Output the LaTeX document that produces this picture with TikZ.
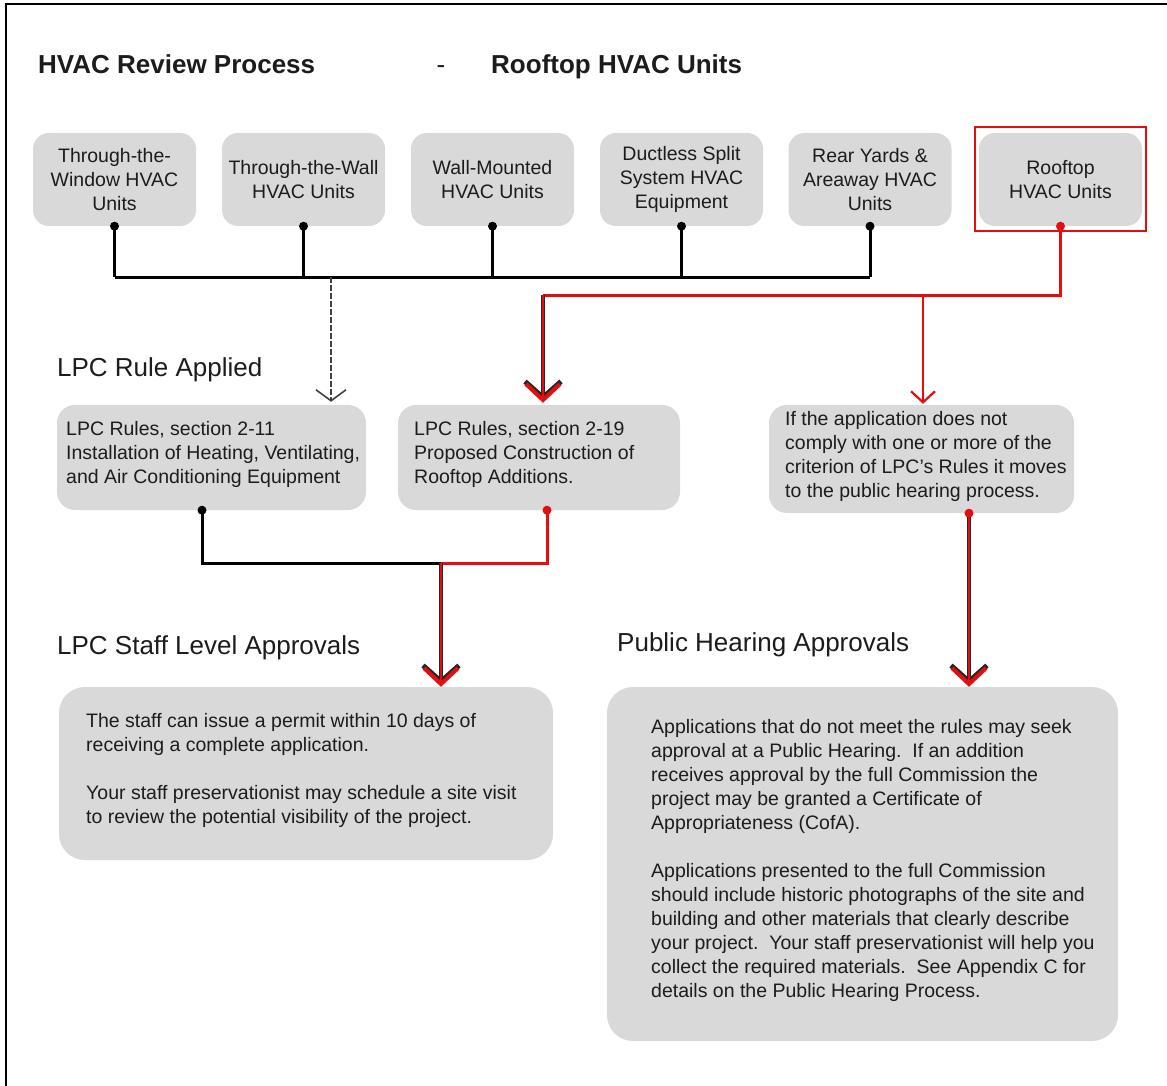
\documentclass[tikz,border=0pt]{standalone}
\usepackage{fontspec}
\setmainfont{Liberation Sans}
\usetikzlibrary{arrows.meta}
\definecolor{boxgray}{RGB}{217,217,217}
\definecolor{flowred}{RGB}{228,14,14}
\definecolor{ink}{RGB}{28,28,28}
\newcommand\diagbody{\fontsize{19.5}{24}\selectfont}
\newcommand\diaghead{\fontsize{26}{30}\selectfont}

\begin{document}
\begin{tikzpicture}[x=1pt,y=-1pt,
  unitbox/.style={fill=boxgray, rounded corners=16pt, minimum width=163pt,
    minimum height=93pt, inner sep=0pt, align=center, font=\diagbody, text=ink},
  rulebox/.style={fill=boxgray, rounded corners=18pt, inner sep=0pt},
  bigbox/.style={fill=boxgray, rounded corners=26pt, inner sep=0pt},
  boxtext/.style={anchor=west, align=left, inner sep=0pt, font=\diagbody, text=ink},
  heading/.style={anchor=west, inner sep=0pt, font=\diaghead, text=ink},
  titletext/.style={anchor=base west, inner sep=0pt, font=\diaghead\bfseries, text=ink},
  blk/.style={draw=black, line width=3pt},
  blkdrop/.style={draw=black!75, line width=2pt, dash pattern=on 6pt off 2pt,
    -{Straight Barb[length=11pt,width=30pt,line width=1.6pt]}},
  redln/.style={draw=flowred, line width=3pt},
  redunder/.style={draw=black!85, line width=3.8pt,
    -{Straight Barb[length=16pt,width=36pt,line width=5pt]}},
  redover/.style={draw=flowred, line width=2.8pt,
    -{Straight Barb[length=16pt,width=34pt,line width=4pt]}},
  redthin/.style={draw=flowred, line width=2.4pt,
    -{Straight Barb[length=11pt,width=24pt,line width=2.2pt]}}
]
\useasboundingbox (0,0) rectangle (1167,1086);
\fill[white] (0,0) rectangle (1167,1086);

% page frame (top and left edges)
\draw[line width=2.2pt] (6,1086) -- (6,4) -- (1167,4);

% title
\node[titletext] (title) at (38,74) {HVAC Review Process};
\node[anchor=base, inner sep=0pt, font=\diaghead, text=ink] (titledash) at (441,74) {-};
\node[titletext] (titleunit) at (491,74) {Rooftop HVAC Units};

% equipment categories
\node[unitbox] (b1) at (114.5,179.5) {Through-the-\\Window HVAC\\Units};
\node[unitbox] (b2) at (303.5,179.5) {Through-the-Wall\\HVAC Units};
\node[unitbox] (b3) at (492.5,179.5) {Wall-Mounted\\HVAC Units};
\node[unitbox] (b4) at (681.5,179.5) {Ductless Split\\System HVAC\\Equipment};
\node[unitbox] (b5) at (870,179.5) {Rear Yards \&\\Areaway HVAC\\Units};
\node[unitbox] (roof) at (1060.5,179.5) {Rooftop\\HVAC Units};
\node[draw=flowred, line width=2.2pt, minimum width=171pt, minimum height=104pt,
  inner sep=0pt] (roofframe) at (1060.5,179) {};

% section headings
\node[heading] (h1) at (57,370) {LPC Rule Applied};
\node[heading] (h2) at (57,648) {LPC Staff Level Approvals};
\node[heading] (h3) at (617,645) {Public Hearing Approvals};

% rule boxes
\node[rulebox, minimum width=309pt, minimum height=105pt] (rule1) at (211.5,457.5) {};
\node[boxtext] (rule1t) at (66,454) {LPC Rules, section 2-11\\Installation of Heating, Ventilating,\\and Air Conditioning Equipment};
\node[rulebox, minimum width=282pt, minimum height=105pt] (rule2) at (539,457.5) {};
\node[boxtext] (rule2t) at (414,454) {LPC Rules, section 2-19\\Proposed Construction of\\Rooftop Additions.};
\node[rulebox, minimum width=305pt, minimum height=108pt] (hear) at (921.5,459) {};
\node[boxtext] (heart) at (785,456) {If the application does not\\comply with one or more of the\\criterion of LPC’s Rules it moves\\to the public hearing process.};

% approval boxes
\node[bigbox, minimum width=494pt, minimum height=173pt] (staff) at (306,773.5) {};
\node[boxtext] (stafft) at (86,770) {The staff can issue a permit within 10 days of\\receiving a complete application.\\[24pt]Your staff preservationist may schedule a site visit\\to review the potential visibility of the project.};
\node[bigbox, minimum width=511pt, minimum height=354pt] (pub) at (862.5,864) {};
\node[boxtext] (pubt) at (651,860) {Applications that do not meet the rules may seek\\approval at a Public Hearing.\ \ If an addition\\receives approval by the full Commission the\\project may be granted a Certificate of\\Appropriateness (CofA).\\[24pt]Applications presented to the full Commission\\should include historic photographs of the site and\\building and other materials that clearly describe\\your project.\ \ Your staff preservationist will help you\\collect the required materials.\ \ See Appendix C for\\details on the Public Hearing Process.};

% connector junctions
\coordinate (bus) at (0,277);
\coordinate (drop) at (331,277);
\coordinate (r1) at (543,295);
\coordinate (r2) at (923,295);
\coordinate (d1) at ([xshift=-9.5pt]rule1.south);
\coordinate (d2) at ([xshift=8pt]rule2.south);
\coordinate (d3) at ([xshift=47.5pt]hear.south);
\coordinate (j) at (441,563);

% black connectors from the other categories
\foreach \b in {b1,b2,b3,b4,b5} {
  \draw[blk] (\b.south) -- (\b.south |- bus);
  \fill[black] (\b.south) circle (4.5pt);
}
\draw[blk] (b1.south |- bus) -- (b5.south |- bus);
\draw[blkdrop] (drop) -- ([yshift=3pt]drop |- rule1.north);

% red connectors from the rooftop category
\draw[redln] (roof.south) |- (r1);
\fill[flowred] (roof.south) circle (4.5pt);
\draw[redunder] (r1) -- ([yshift=4pt]r1 |- rule2.north);
\draw[redover] (r1) -- ([yshift=2pt]r1 |- rule2.north);
\draw[redthin] (r2) -- ([yshift=1pt]r2 |- hear.north);

% into the approval boxes
\draw[blk] (d1) |- (j);
\fill[black] (d1) circle (4.5pt);
\draw[redln] (d2) |- (j);
\fill[flowred] (d2) circle (4.5pt);
\draw[redunder] (j) -- ([yshift=2pt]j |- staff.north);
\draw[redover] (j) -- (j |- staff.north);
\draw[redunder] (d3) -- ([yshift=2pt]d3 |- pub.north);
\draw[redover] (d3) -- (d3 |- pub.north);
\fill[flowred] (d3) circle (4.5pt);
\end{tikzpicture}
\end{document}
